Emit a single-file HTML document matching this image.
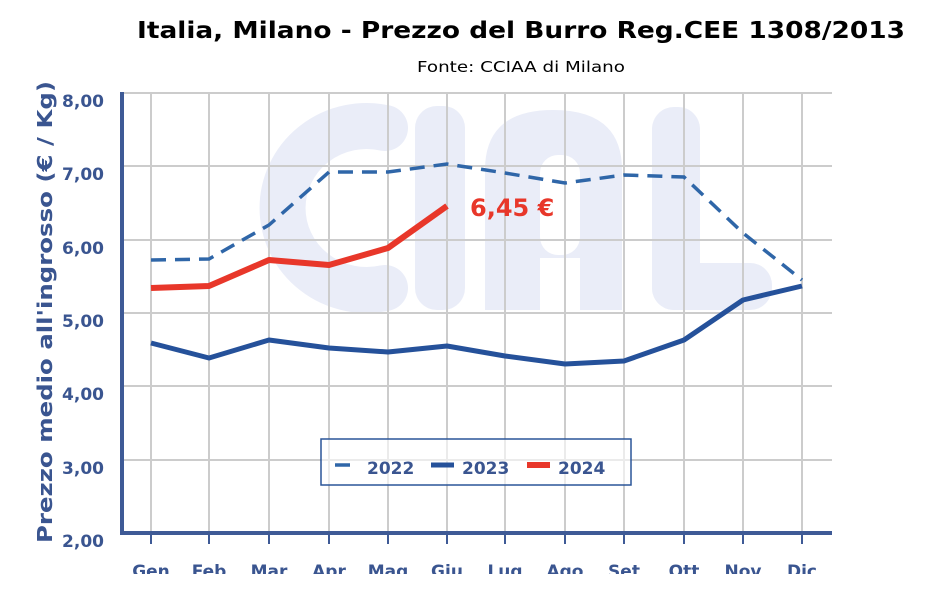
<!DOCTYPE html>
<html><head><meta charset="utf-8"><style>
html,body{margin:0;padding:0;background:#fff;}
svg{display:block;font-family:"DejaVu Sans","Liberation Sans",sans-serif;}
</style></head><body>
<svg width="936" height="602" viewBox="0 0 936 602" xmlns="http://www.w3.org/2000/svg">
<rect width="936" height="602" fill="#fff"/>
<text x="521" y="38" text-anchor="middle" font-size="23" font-weight="bold" fill="#000" textLength="768" lengthAdjust="spacingAndGlyphs">Italia, Milano - Prezzo del Burro Reg.CEE 1308/2013</text>
<text x="521" y="72" text-anchor="middle" font-size="15" fill="#000" textLength="208" lengthAdjust="spacingAndGlyphs">Fonte: CCIAA di Milano</text>
<!-- watermark -->
<g fill="#eaedf8" stroke="none">
<path d="M385,128 A84,82 0 1 0 385,288" fill="none" stroke="#eaedf8" stroke-width="46" stroke-linecap="round"/>
<rect x="415" y="106" width="50" height="204" rx="22"/>
<path d="M485,310 L485,170 Q485,110 553,110 Q622,110 622,170 L622,310 L580,310 L580,258 L540,258 L540,310 Z"/>
<rect x="652" y="107" width="48" height="203" rx="22"/>
<rect x="652" y="263" width="120" height="47" rx="22"/>
</g>
<rect x="540" y="155" width="40" height="100" rx="18" fill="#fff"/>
<!-- grid -->
<g stroke="#cccccc" stroke-width="2">
<line x1="122" y1="93" x2="832" y2="93"/><line x1="122" y1="166" x2="832" y2="166"/><line x1="122" y1="240" x2="832" y2="240"/><line x1="122" y1="313" x2="832" y2="313"/><line x1="122" y1="386" x2="832" y2="386"/><line x1="122" y1="460" x2="832" y2="460"/>
<line x1="151" y1="93" x2="151" y2="533"/><line x1="209" y1="93" x2="209" y2="533"/><line x1="269" y1="93" x2="269" y2="533"/><line x1="329" y1="93" x2="329" y2="533"/><line x1="388" y1="93" x2="388" y2="533"/><line x1="447" y1="93" x2="447" y2="533"/><line x1="505" y1="93" x2="505" y2="533"/><line x1="565" y1="93" x2="565" y2="533"/><line x1="624" y1="93" x2="624" y2="533"/><line x1="684" y1="93" x2="684" y2="533"/><line x1="743" y1="93" x2="743" y2="533"/><line x1="802" y1="93" x2="802" y2="533"/>
</g>
<!-- axes -->
<g stroke="#3e5a96">
<line x1="122" y1="92" x2="122" y2="535" stroke-width="4"/>
<line x1="120" y1="533" x2="832" y2="533" stroke-width="4"/>
<g stroke-width="2"><line x1="151" y1="533" x2="151" y2="544"/><line x1="209" y1="533" x2="209" y2="544"/><line x1="269" y1="533" x2="269" y2="544"/><line x1="329" y1="533" x2="329" y2="544"/><line x1="388" y1="533" x2="388" y2="544"/><line x1="447" y1="533" x2="447" y2="544"/><line x1="505" y1="533" x2="505" y2="544"/><line x1="565" y1="533" x2="565" y2="544"/><line x1="624" y1="533" x2="624" y2="544"/><line x1="684" y1="533" x2="684" y2="544"/><line x1="743" y1="533" x2="743" y2="544"/><line x1="802" y1="533" x2="802" y2="544"/></g>
</g>
<!-- series -->
<polyline fill="none" stroke="#2f66a8" stroke-width="3.5" stroke-dasharray="15,9" points="151,260 209,259 269,225 329,172 388,172 447,164 505,173 565,183 624,175 684,177 743,233 802,280"/>
<polyline fill="none" stroke="#25519a" stroke-width="5" stroke-linejoin="round" points="151,343 209,358 269,340 329,348 388,352 447,346 505,356 565,364 624,361 684,340 743,300 802,286"/>
<polyline fill="none" stroke="#e8372a" stroke-width="6" stroke-linejoin="round" points="151,288 209,286 269,260 329,265 388,248 447,206"/>
<text x="470" y="216" font-size="24" font-weight="bold" fill="#e8372a">6,45 €</text>
<!-- y labels -->
<g font-size="17" font-weight="bold" fill="#3a5590" text-anchor="end">
<text x="104" y="107">8,00</text><text x="104" y="180">7,00</text><text x="104" y="254">6,00</text><text x="104" y="327">5,00</text><text x="104" y="400">4,00</text><text x="104" y="474">3,00</text><text x="104" y="547">2,00</text>
</g>
<text transform="translate(52,312) rotate(-90)" text-anchor="middle" font-size="20" font-weight="bold" fill="#3a5590" textLength="462" lengthAdjust="spacingAndGlyphs">Prezzo medio all'ingrosso (€ / Kg)</text>
<!-- x labels -->
<clipPath id="xc"><rect x="100" y="555" width="760" height="19"/></clipPath>
<g clip-path="url(#xc)" font-size="17" font-weight="bold" fill="#3a5590" text-anchor="middle">
<text x="151" y="577">Gen</text><text x="209" y="577">Feb</text><text x="269" y="577">Mar</text><text x="329" y="577">Apr</text><text x="388" y="577">Mag</text><text x="447" y="577">Giu</text><text x="505" y="577">Lug</text><text x="565" y="577">Ago</text><text x="624" y="577">Set</text><text x="684" y="577">Ott</text><text x="743" y="577">Nov</text><text x="802" y="577">Dic</text>
</g>
<!-- legend -->
<rect x="321" y="439" width="310" height="46" fill="#fff" fill-opacity="0.6" stroke="#2a5598" stroke-width="1.5"/>
<line x1="335" y1="465" x2="350" y2="465" stroke="#2f66a8" stroke-width="3.5"/>
<text x="367" y="474" font-size="17" font-weight="bold" fill="#3a5590">2022</text>
<line x1="431" y1="465" x2="454" y2="465" stroke="#25519a" stroke-width="5"/>
<text x="462" y="474" font-size="17" font-weight="bold" fill="#3a5590">2023</text>
<line x1="527" y1="465" x2="550" y2="465" stroke="#e8372a" stroke-width="6"/>
<text x="558" y="474" font-size="17" font-weight="bold" fill="#3a5590">2024</text>
</svg>
</body></html>
